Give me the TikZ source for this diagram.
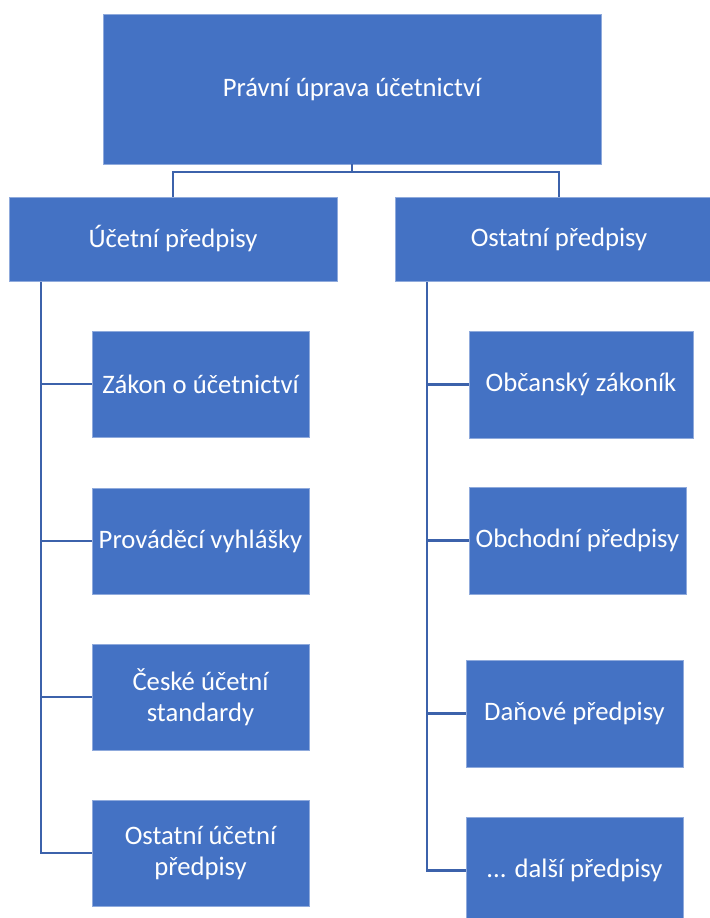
\documentclass[tikz,border=0pt]{standalone}
\usepackage{fontspec}
\setmainfont{Carlito}
\definecolor{boxblue}{HTML}{4472C4}
\definecolor{boxedge}{HTML}{8FAADC}
\definecolor{linkblue}{HTML}{3C62AB}
\begin{document}
\begin{tikzpicture}[x=0.75pt,y=-0.75pt,
  box/.style={fill=boxblue, draw=boxedge, line width=0.6pt, text=white,
    inner sep=0pt, align=center, font=\fontsize{20}{23}\selectfont},
  conn/.style={draw=linkblue, line width=2.2pt}]
\useasboundingbox (0,0) rectangle (710,918);
% level 0
\node[box, minimum width=373.5pt, minimum height=112.5pt] (top) at (352,89) {Právní úprava účetnictví};
% level 1
\node[box, minimum width=246pt, minimum height=63pt] (L) at (173,239) {Účetní předpisy};
\node[box, minimum width=246pt, minimum height=63pt] (R) at (559,239) {Ostatní předpisy};
% left children
\node[box, minimum width=162.75pt, minimum height=79.5pt] (L1) at (200.5,384) {Zákon o účetnictví};
\node[box, minimum width=162.75pt, minimum height=79.5pt] (L2) at (200.5,541) {Prováděcí vyhlášky};
\node[box, minimum width=162.75pt, minimum height=79.5pt] (L3) at (200.5,697) {České účetní\\standardy};
\node[box, minimum width=162.75pt, minimum height=79.5pt] (L4) at (200.5,853) {Ostatní účetní\\předpisy};
% right children
\node[box, minimum width=168pt, minimum height=80.25pt] (R1) at (581,384.5) {Občanský zákoník};
\node[box, minimum width=162.75pt, minimum height=80.25pt] (R2) at (577.5,540.5) {Obchodní předpisy};
\node[box, minimum width=162.75pt, minimum height=80.25pt] (R3) at (574.5,713.5) {Daňové předpisy};
\node[box, minimum width=162.75pt, minimum height=80.25pt] (R4) at (574.5,870.5) {{.}{.}{.} další předpisy};
% junctions
\coordinate (jt) at (352,172);
\coordinate (lv) at (41,282);
\coordinate (rv) at (427,282);
% connectors
\draw[conn] (top.south) -- (jt);
\draw[conn] (L.north) |- (jt) -| (R.north);
\draw[conn] (lv) |- (L4.west);
\draw[conn] (L1.west) -- (L1.west -| lv);
\draw[conn] (L2.west) -- (L2.west -| lv);
\draw[conn] (L3.west) -- (L3.west -| lv);
\draw[conn] (rv) |- (R4.west);
\draw[conn] (R1.west) -- (R1.west -| rv);
\draw[conn] (R2.west) -- (R2.west -| rv);
\draw[conn] (R3.west) -- (R3.west -| rv);
\end{tikzpicture}
\end{document}
